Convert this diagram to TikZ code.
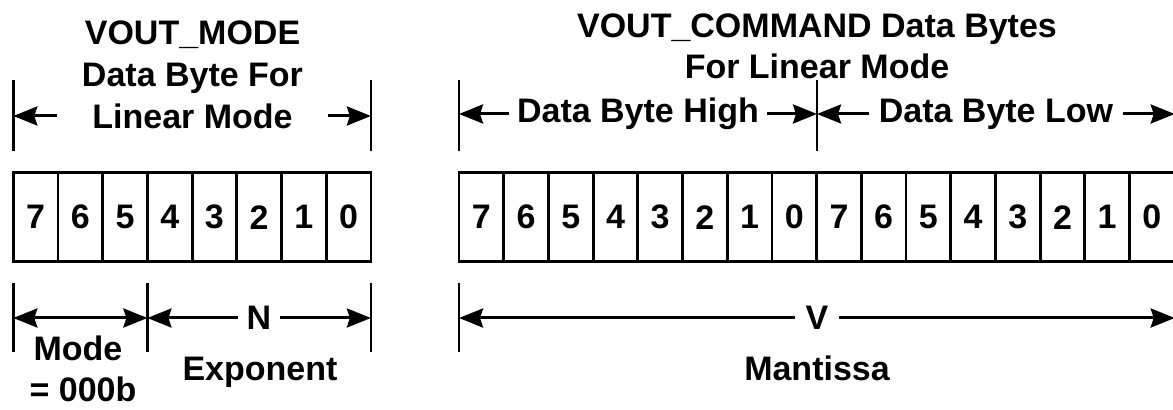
\documentclass[tikz,border=0pt]{standalone}
\usepackage{fontspec}
\setmainfont{Liberation Sans}
\usetikzlibrary{arrows.meta}
\usetikzlibrary{positioning}
\tikzset{
    bit/.style={
           rectangle,
           draw=black, line width=1.4pt,
           minimum width=22.35pt,
           minimum height=44.5pt,
           inner sep=0pt, outer sep=0pt,
           font=\fontsize{17}{20}\selectfont\bfseries,
           text centered,
           },
    lbl/.style={
           font=\fontsize{17}{20}\selectfont\bfseries,
           inner sep=0pt,
           },
    tick/.style={line width=1.3pt},
    dim/.style={line width=1.5pt},
}

\begin{document}
\begin{tikzpicture}[x=0.5pt,y=-0.5pt,>={Stealth[length=12pt,width=9.5pt,inset=1.5pt]}]
        \useasboundingbox (0,0) rectangle (1173,410);

        % VOUT_MODE byte
        \node[bit] (m7) at (35.65,217.2) {7};
        \node[bit, right=0pt of m7] (m6) {6};
        \node[bit, right=0pt of m6] (m5) {5};
        \node[bit, right=0pt of m5] (m4) {4};
        \node[bit, right=0pt of m4] (m3) {3};
        \node[bit, right=0pt of m3] (m2) {2};
        \node[bit, right=0pt of m2] (m1) {1};
        \node[bit, right=0pt of m1] (m0) {0};

        % VOUT_COMMAND bytes
        \node[bit] (h7) at (481.35,217.2) {7};
        \node[bit, right=0pt of h7] (h6) {6};
        \node[bit, right=0pt of h6] (h5) {5};
        \node[bit, right=0pt of h5] (h4) {4};
        \node[bit, right=0pt of h4] (h3) {3};
        \node[bit, right=0pt of h3] (h2) {2};
        \node[bit, right=0pt of h2] (h1) {1};
        \node[bit, right=0pt of h1] (h0) {0};
        \node[bit, right=0pt of h0] (l7) {7};
        \node[bit, right=0pt of l7] (l6) {6};
        \node[bit, right=0pt of l6] (l5) {5};
        \node[bit, right=0pt of l5] (l4) {4};
        \node[bit, right=0pt of l4] (l3) {3};
        \node[bit, right=0pt of l3] (l2) {2};
        \node[bit, right=0pt of l2] (l1) {1};
        \node[bit, right=0pt of l1] (l0) {0};

        % titles
        \node[lbl, anchor=base] (vm) at (192.5,45) {VOUT\_MODE};
        \node[lbl, anchor=base] (dbf) at (192.5,87) {Data Byte For};
        \node[lbl, inner xsep=17.5pt] (lm) at (192.5,116) {Linear Mode};
        \node[lbl, anchor=base] (vc) at (817,38) {VOUT\_COMMAND Data Bytes};
        \node[lbl, anchor=base] (flm) at (817,79) {For Linear Mode};
        \node[lbl, inner xsep=4pt] (dh) at (638,114) {Data Byte High};
        \node[lbl, inner xsep=4.5pt] (dl) at (996,114) {Data Byte Low};

        % bracket ticks
        \coordinate (ta) at (13.3,80);
        \coordinate (tb) at (370.9,80);
        \coordinate (tc) at (459,80);
        \coordinate (td) at (817,80);
        \coordinate (te) at (1174.7,80);
        \coordinate (ba) at (13.3,283);
        \coordinate (bb) at (147.4,283);
        \coordinate (bc) at (370.9,283);
        \coordinate (bd) at (459,283);
        \coordinate (be) at (1174.7,283);
        \foreach \t in {ta,tb,tc,td,te} \draw[tick] (\t) -- ++(0,71);
        \foreach \t in {ba,bb,bc,bd,be} \draw[tick] (\t) -- ++(0,69);

        \draw[dim,->] (lm.west) -- (lm.west -| ta);
        \draw[dim,->] (lm.east) -- (lm.east -| tb);
        \draw[dim,->] (dh.west) -- (dh.west -| tc);
        \draw[dim,->] (dh.east) -- (dh.east -| td);
        \draw[dim,->] (dl.west) -- (dl.west -| td);
        \draw[dim,->] (dl.east) -- (dl.east -| te);

        % fields
        \coordinate (md) at (13.3,318);
        \node[lbl, inner xsep=4pt] (n) at (259,318) {N};
        \node[lbl, inner xsep=5pt] (v) at (817,318) {V};
        \draw[dim,<->] (md) -- (md -| bb);
        \draw[dim,->] (n.west) -- (n.west -| bb);
        \draw[dim,->] (n.east) -- (n.east -| bc);
        \draw[dim,->] (v.west) -- (v.west -| bd);
        \draw[dim,->] (v.east) -- (v.east -| be);

        \node[lbl, anchor=base] (mo) at (78,361) {Mode};
        \node[lbl, anchor=base] (mz) at (83,402) {= 000b};
        \node[lbl, anchor=base] (ex) at (260,381) {Exponent};
        \node[lbl, anchor=base] (ma) at (817,381) {Mantissa};
    \end{tikzpicture}
\end{document}
